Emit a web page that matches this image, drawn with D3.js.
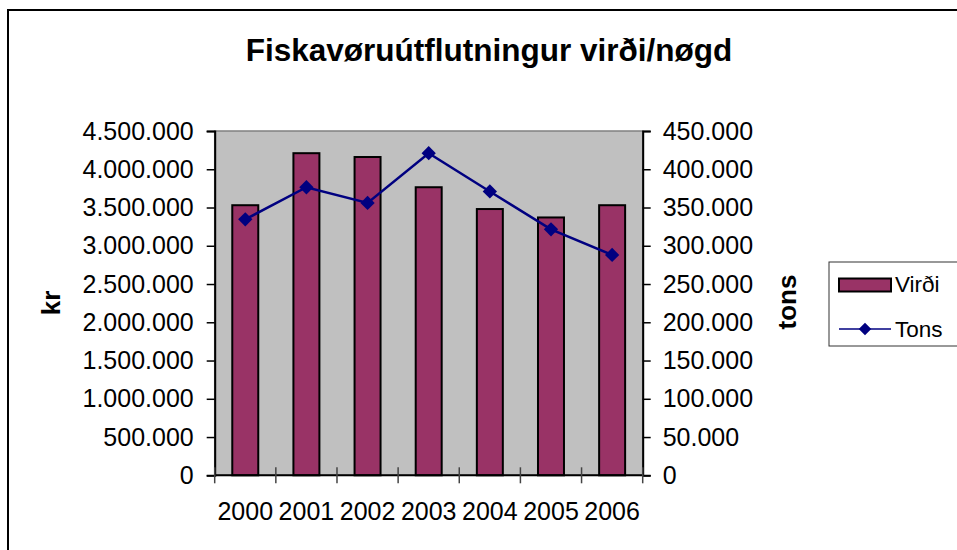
<!DOCTYPE html>
<html>
<head>
<meta charset="utf-8">
<script src="https://cdn.jsdelivr.net/npm/d3@7"></script>
<style>
    body { margin: 0; background: #fff; }
    text { font-family: "Liberation Sans", Arial, sans-serif; fill: #000; }
</style>
</head>
<body>
<div id="chart"></div>
<script>
// data
const years = ["2000", "2001", "2002", "2003", "2004", "2005", "2006"];
const virdi = [3530000, 4210000, 4160000, 3765000, 3480000, 3370000, 3530000];
const tons = [334500, 376500, 356000, 421000, 371000, 321500, 288000];
const leftTicks = [0, 500000, 1000000, 1500000, 2000000, 2500000, 3000000, 3500000, 4000000, 4500000];
const rightTicks = [0, 50000, 100000, 150000, 200000, 250000, 300000, 350000, 400000, 450000];

const W = 957, H = 550;
const plot = { left: 214.7, right: 642.7, top: 131, bottom: 475.3 };

// numbers with dots as thousands separator
const fmt = d3.formatLocale({ decimal: ",", thousands: ".", grouping: [3], currency: ["", " kr"] }).format(",d");

const svg = d3.select("#chart").append("svg")
    .attr("width", W)
    .attr("height", H);

// outer chart frame (runs off the right and bottom edge)
svg.append("rect")
    .attr("x", 8).attr("y", 10)
    .attr("width", 1000).attr("height", 600)
    .attr("fill", "none")
    .attr("stroke", "#000")
    .attr("stroke-width", 2);

const x = d3.scaleBand().domain(years).range([plot.left, plot.right]).padding(0);
const yL = d3.scaleLinear().domain([0, 4500000]).range([plot.bottom, plot.top]);
const yR = d3.scaleLinear().domain([0, 450000]).range([plot.bottom, plot.top]);

// plot area
svg.append("rect")
    .attr("x", plot.left).attr("y", plot.top)
    .attr("width", plot.right - plot.left).attr("height", plot.bottom - plot.top)
    .attr("fill", "#c0c0c0")
    .attr("stroke", "#808080")
    .attr("stroke-width", 1.5);

// bars
const barW = x.bandwidth() * 0.425;
svg.selectAll(".bar")
    .data(virdi)
    .enter().append("rect")
    .attr("class", "bar")
    .attr("x", (d, i) => x(years[i]) + x.bandwidth() / 2 - barW / 2)
    .attr("y", d => yL(d))
    .attr("width", barW)
    .attr("height", d => yL(0) - yL(d))
    .attr("fill", "#993366")
    .attr("stroke", "#000")
    .attr("stroke-width", 2);

// left axis
const leftAxis = svg.append("g")
    .attr("transform", `translate(${plot.left},0)`)
    .call(d3.axisLeft(yL).tickValues(leftTicks).tickFormat(fmt).tickSize(8).tickPadding(13));
// right axis
const rightAxis = svg.append("g")
    .attr("transform", `translate(${plot.right},0)`)
    .call(d3.axisRight(yR).tickValues(rightTicks).tickFormat(fmt).tickSize(8).tickPadding(12));

[leftAxis, rightAxis].forEach(g => {
    g.select(".domain").attr("stroke", "#000").attr("stroke-width", 2);
    g.selectAll(".tick line").attr("stroke", "#000").attr("stroke-width", 1.5);
    g.selectAll(".tick text")
        .style("font-family", "'Liberation Sans', Arial, sans-serif")
        .style("font-size", "25px")
        .attr("fill", "#000");
});

// x axis: ticks on category boundaries crossing the axis line
const bottomAxis = svg.append("g")
    .attr("transform", `translate(0,${plot.bottom})`);
bottomAxis.append("line")
    .attr("x1", plot.left).attr("x2", plot.right)
    .attr("stroke", "#000").attr("stroke-width", 2);
const bounds = years.map(d => x(d)).concat([x(years[years.length - 1]) + x.bandwidth()]);
bottomAxis.selectAll(".xtick")
    .data(bounds)
    .enter().append("line")
    .attr("class", "xtick")
    .attr("x1", d => d).attr("x2", d => d)
    .attr("y1", -8).attr("y2", 8)
    .attr("stroke", "#444").attr("stroke-width", 1.5);
bottomAxis.selectAll(".xlabel")
    .data(years)
    .enter().append("text")
    .attr("class", "xlabel")
    .attr("x", d => x(d) + x.bandwidth() / 2)
    .attr("y", 45)
    .attr("text-anchor", "middle")
    .style("font-size", "25px")
    .text(d => d);

// line series
const line = d3.line()
    .x((d, i) => x(years[i]) + x.bandwidth() / 2)
    .y(d => yR(d));
svg.append("path")
    .datum(tons)
    .attr("d", line)
    .attr("fill", "none")
    .attr("stroke", "#000080")
    .attr("stroke-width", 2.5);

const diamond = d3.symbol().type(d3.symbolDiamond2).size(130);
svg.selectAll(".marker")
    .data(tons)
    .enter().append("path")
    .attr("class", "marker")
    .attr("d", diamond)
    .attr("transform", (d, i) => `translate(${x(years[i]) + x.bandwidth() / 2},${yR(d)})`)
    .attr("fill", "#000080");

// title
svg.append("text")
    .attr("x", 489).attr("y", 61)
    .attr("text-anchor", "middle")
    .style("font-size", "31.5px")
    .style("font-weight", "bold")
    .text("Fiskavøruútflutningur virði/nøgd");

// axis titles
svg.append("text")
    .attr("transform", "translate(60,303) rotate(-90)")
    .attr("text-anchor", "middle")
    .style("font-size", "26px")
    .style("font-weight", "bold")
    .text("kr");
svg.append("text")
    .attr("transform", "translate(796,302) rotate(-90)")
    .attr("text-anchor", "middle")
    .style("font-size", "26px")
    .style("font-weight", "bold")
    .text("tons");

// legend
const legend = svg.append("g").attr("class", "legend");
legend.append("rect")
    .attr("x", 829).attr("y", 262)
    .attr("width", 200).attr("height", 84)
    .attr("fill", "#fff")
    .attr("stroke", "#333")
    .attr("stroke-width", 1);
legend.append("rect")
    .attr("x", 839).attr("y", 278.5)
    .attr("width", 52).attr("height", 13)
    .attr("fill", "#993366")
    .attr("stroke", "#000")
    .attr("stroke-width", 2);
legend.append("text")
    .attr("x", 895).attr("y", 292)
    .style("font-size", "22.5px")
    .text("Virði");
legend.append("line")
    .attr("x1", 839).attr("x2", 891)
    .attr("y1", 329).attr("y2", 329)
    .attr("stroke", "#000080")
    .attr("stroke-width", 1.5);
legend.append("path")
    .attr("d", d3.symbol().type(d3.symbolDiamond2).size(100))
    .attr("transform", "translate(865,329)")
    .attr("fill", "#000080");
legend.append("text")
    .attr("x", 895).attr("y", 337)
    .style("font-size", "22.5px")
    .text("Tons");
</script>
</body>
</html>
